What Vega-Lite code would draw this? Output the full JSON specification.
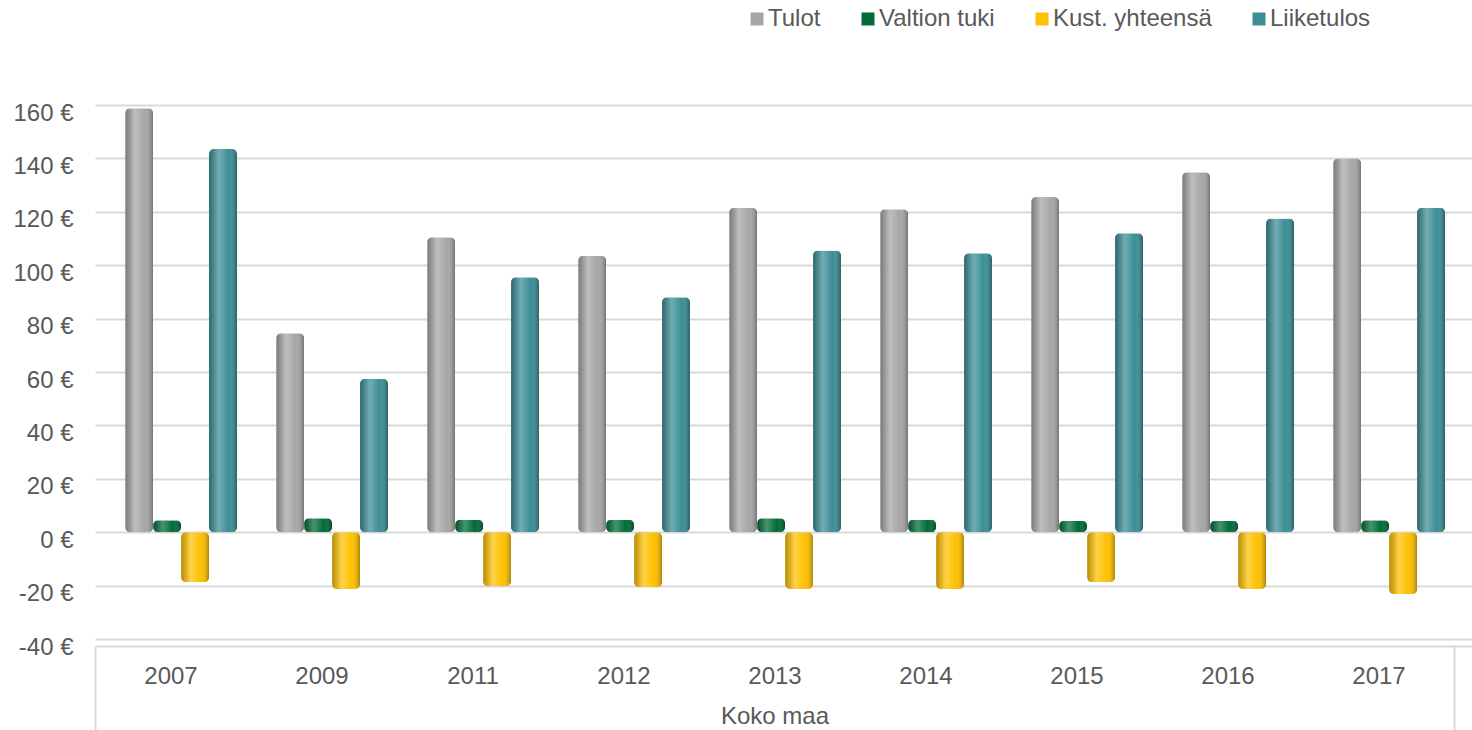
{
  "$schema": "https://vega.github.io/schema/vega-lite/v6.json",
  "width": 1377,
  "height": 534,
  "autosize": {"type": "none"},
  "padding": {"left": 95, "top": 105, "right": 0, "bottom": 91},
  "background": "white",
  "config": {"view": {"stroke": null}, "font": "Liberation Sans"},
  "data": {
    "values": [
      {"year": "2007", "series": "Tulot", "value": 158.8},
      {"year": "2009", "series": "Tulot", "value": 74.5},
      {"year": "2011", "series": "Tulot", "value": 110.5},
      {"year": "2012", "series": "Tulot", "value": 103.5},
      {"year": "2013", "series": "Tulot", "value": 121.5},
      {"year": "2014", "series": "Tulot", "value": 121},
      {"year": "2015", "series": "Tulot", "value": 125.5},
      {"year": "2016", "series": "Tulot", "value": 134.8},
      {"year": "2017", "series": "Tulot", "value": 140},
      {"year": "2007", "series": "Valtion tuki", "value": 4.5},
      {"year": "2009", "series": "Valtion tuki", "value": 5.2},
      {"year": "2011", "series": "Valtion tuki", "value": 4.7},
      {"year": "2012", "series": "Valtion tuki", "value": 4.7},
      {"year": "2013", "series": "Valtion tuki", "value": 5.2},
      {"year": "2014", "series": "Valtion tuki", "value": 4.7},
      {"year": "2015", "series": "Valtion tuki", "value": 4.3},
      {"year": "2016", "series": "Valtion tuki", "value": 4.3},
      {"year": "2017", "series": "Valtion tuki", "value": 4.5},
      {"year": "2007", "series": "Kust. yhteensä", "value": -18.7},
      {"year": "2009", "series": "Kust. yhteensä", "value": -21.3},
      {"year": "2011", "series": "Kust. yhteensä", "value": -20.2},
      {"year": "2012", "series": "Kust. yhteensä", "value": -20.6},
      {"year": "2013", "series": "Kust. yhteensä", "value": -21.3},
      {"year": "2014", "series": "Kust. yhteensä", "value": -21.3},
      {"year": "2015", "series": "Kust. yhteensä", "value": -18.7},
      {"year": "2016", "series": "Kust. yhteensä", "value": -21.3},
      {"year": "2017", "series": "Kust. yhteensä", "value": -23.2},
      {"year": "2007", "series": "Liiketulos", "value": 143.5},
      {"year": "2009", "series": "Liiketulos", "value": 57.5},
      {"year": "2011", "series": "Liiketulos", "value": 95.5},
      {"year": "2012", "series": "Liiketulos", "value": 88},
      {"year": "2013", "series": "Liiketulos", "value": 105.5},
      {"year": "2014", "series": "Liiketulos", "value": 104.5},
      {"year": "2015", "series": "Liiketulos", "value": 112},
      {"year": "2016", "series": "Liiketulos", "value": 117.5},
      {"year": "2017", "series": "Liiketulos", "value": 121.5}
    ]
  },
  "encoding": {
    "x": {
      "field": "year",
      "type": "nominal",
      "scale": {"paddingInner": 0, "paddingOuter": 0.0596, "align": 0},
      "axis": {
        "title": "Koko maa",
        "labelAngle": 0,
        "labelFontSize": 24,
        "labelColor": "#595959",
        "labelBaseline": "alphabetic",
        "labelPadding": -47,
        "domainColor": "#d9d9d9",
        "domainWidth": 2,
        "offset": 7,
        "ticks": true,
        "tickBand": "extent",
        "tickSize": 84,
        "tickColor": "#d9d9d9",
        "tickWidth": 2,
        "tickOpacity": {"condition": {"test": "datum.index == 1 || datum.index < 0", "value": 1}, "value": 0},
        "grid": false,
        "titleFontSize": 24,
        "titleFontWeight": "normal",
        "titleColor": "#595959",
        "titleBaseline": "alphabetic",
        "titleX": 679.5,
        "titleY": 77
      }
    },
    "xOffset": {
      "field": "series",
      "type": "nominal",
      "sort": ["Tulot", "Valtion tuki", "Kust. yhteensä", "Liiketulos"],
      "scale": {"paddingInner": 0, "paddingOuter": 0.7, "align": 0.77}
    },
    "y": {
      "field": "value",
      "type": "quantitative",
      "scale": {"domain": [-40, 160], "nice": false},
      "axis": {
        "title": null,
        "values": [-40, -20, 0, 20, 40, 60, 80, 100, 120, 140, 160],
        "labelExpr": "datum.value + ' €'",
        "labelFontSize": 24,
        "labelColor": "#595959",
        "labelPadding": 22,
        "labelOffset": 8,
        "ticks": false,
        "domain": false,
        "gridColor": "#d9d9d9",
        "gridWidth": 2
      }
    }
  },
  "layer": [
    {
      "mark": {"type": "bar", "cornerRadius": 5},
      "encoding": {
        "color": {
          "field": "series",
          "type": "nominal",
          "scale": {
            "domain": ["Tulot", "Valtion tuki", "Kust. yhteensä", "Liiketulos"],
            "range": ["#a6a6a6", "#006b38", "#ffc000", "#3b8e96"]
          },
          "legend": {
            "orient": "none",
            "legendX": 650,
            "legendY": -98,
            "direction": "horizontal",
            "title": null,
            "labelFontSize": 24,
            "labelColor": "#595959",
            "symbolType": "square",
            "symbolSize": 169,
            "symbolStrokeWidth": 0,
            "symbolOpacity": 1,
            "columnPadding": 35,
            "labelOffset": -1
          }
        }
      }
    },
    {
      "mark": {
        "type": "bar",
        "cornerRadius": 5,
        "color": {
          "gradient": "linear", "x1": 0, "x2": 1, "y1": 0, "y2": 0,
          "stops": [
            {"offset": 0, "color": "rgba(0,0,0,0.28)"},
            {"offset": 0.35, "color": "rgba(255,255,255,0.28)"},
            {"offset": 0.7, "color": "rgba(255,255,255,0)"},
            {"offset": 1, "color": "rgba(0,0,0,0.32)"}
          ]
        }
      },
      "encoding": {}
    }
  ]
}
